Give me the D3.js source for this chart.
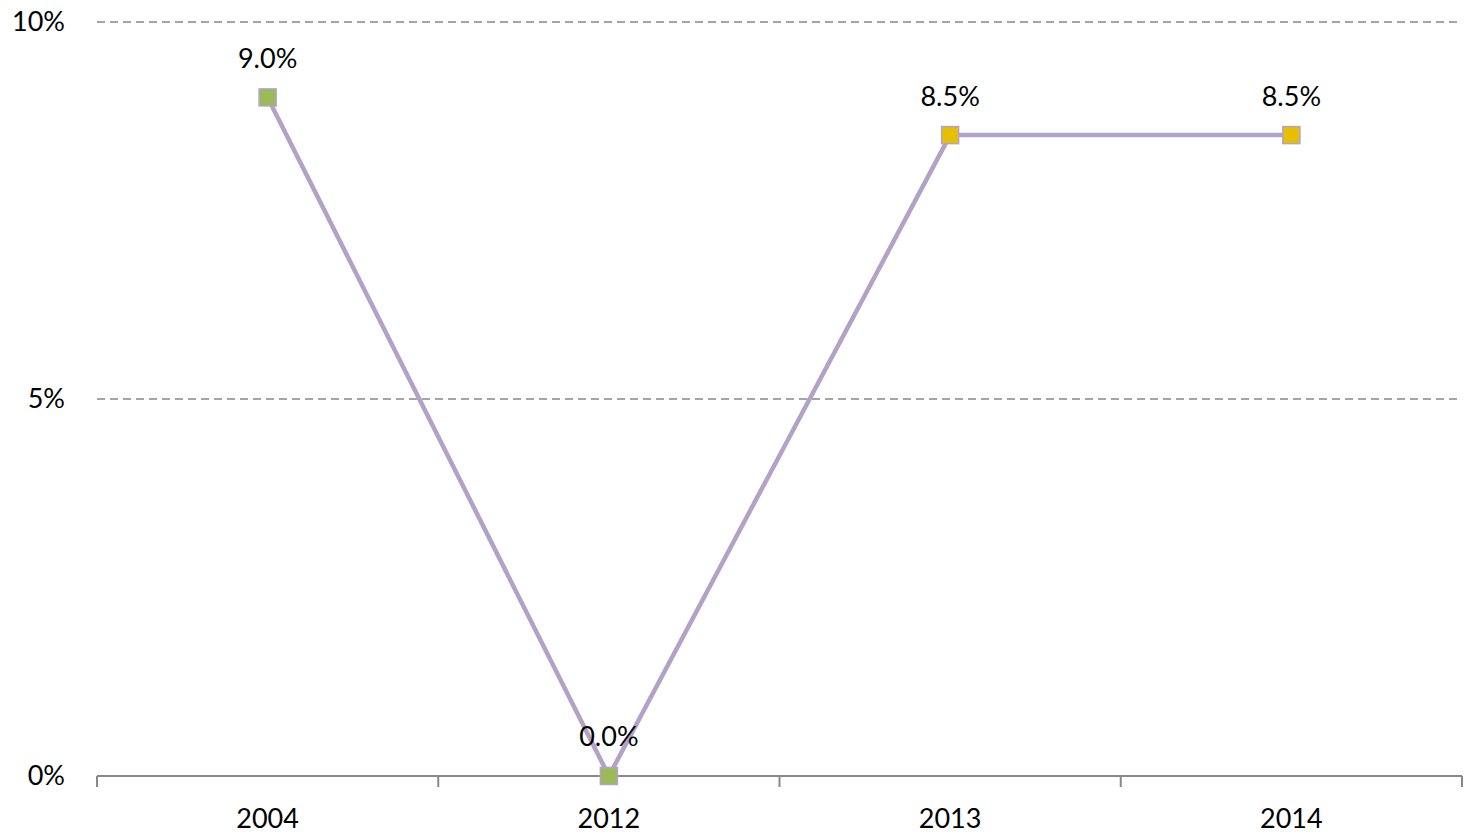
<!DOCTYPE html>
<html>
<head>
<meta charset="utf-8">
<script src="https://cdn.jsdelivr.net/npm/d3@7"></script>
<style>
  body { margin: 0; background: #fff; }
  text { font-family: Lato, "Open Sans", sans-serif; fill: #000; }
</style>
</head>
<body>
<div id="chart"></div>
<script>
// datos
const years = ["2004", "2012", "2013", "2014"];
const values = [9.0, 0.0, 8.5, 8.5];
const markerColors = ["#9bbb59", "#9bbb59", "#e6c000", "#e6c000"];
const yTicks = [0, 5, 10];

const W = 1464, H = 835;
const margin = { top: 22, right: 2, bottom: 59, left: 97 };
const width = W - margin.left - margin.right;
const height = H - margin.top - margin.bottom;

const svg = d3.select("#chart").append("svg")
    .attr("width", W)
    .attr("height", H)
    .append("g")
    .attr("transform", `translate(${margin.left},${margin.top})`);

const x = d3.scaleBand().domain(years).range([0, width]);
const y = d3.scaleLinear().domain([0, 10]).range([height, 0]);

// rejilla
svg.selectAll(".grid")
    .data(yTicks.filter(d => d > 0))
    .enter().append("line")
    .attr("x1", 0).attr("x2", width)
    .attr("y1", d => y(d)).attr("y2", d => y(d))
    .attr("stroke", "#888")
    .attr("stroke-width", 1.3)
    .attr("stroke-dasharray", "8,5");

// etiquetas eje y
svg.selectAll(".ylab")
    .data(yTicks)
    .enter().append("text")
    .attr("x", -32)
    .attr("y", d => y(d))
    .attr("dy", "0.35em")
    .attr("text-anchor", "end")
    .style("font-size", "27px")
    .text(d => d + "%");

// eje x
svg.append("line")
    .attr("x1", 0).attr("x2", width)
    .attr("y1", height).attr("y2", height)
    .attr("stroke", "#888").attr("stroke-width", 2);

const edges = years.map(d => x(d)).concat([width]);
svg.selectAll(".xtick")
    .data(edges)
    .enter().append("line")
    .attr("x1", d => d).attr("x2", d => d)
    .attr("y1", height).attr("y2", height + 11)
    .attr("stroke", "#888").attr("stroke-width", 2);

svg.selectAll(".xlab")
    .data(years)
    .enter().append("text")
    .attr("x", d => x(d) + x.bandwidth() / 2)
    .attr("y", height + 43)
    .attr("dy", "0.35em")
    .attr("text-anchor", "middle")
    .style("font-size", "27px")
    .text(d => d);

// línea
const pts = years.map((d, i) => ({ year: d, value: values[i], color: markerColors[i] }));
const line = d3.line()
    .x(d => x(d.year) + x.bandwidth() / 2)
    .y(d => y(d.value));

svg.append("path")
    .datum(pts)
    .attr("d", line)
    .attr("fill", "none")
    .attr("stroke", "#b3a2c7")
    .attr("stroke-width", 4.5);

// marcadores
const s = 17;
svg.selectAll(".marker")
    .data(pts)
    .enter().append("rect")
    .attr("x", d => x(d.year) + x.bandwidth() / 2 - s / 2)
    .attr("y", d => y(d.value) - s / 2)
    .attr("width", s).attr("height", s)
    .attr("fill", d => d.color)
    .attr("stroke", "#b3a2c7")
    .attr("stroke-width", 1.5);

// etiquetas de valor
svg.selectAll(".vlab")
    .data(pts)
    .enter().append("text")
    .attr("x", d => x(d.year) + x.bandwidth() / 2)
    .attr("y", d => y(d.value) - 39)
    .attr("dy", "0.35em")
    .attr("text-anchor", "middle")
    .style("font-size", "27px")
    .text(d => d.value.toFixed(1) + "%");
</script>
</body>
</html>
